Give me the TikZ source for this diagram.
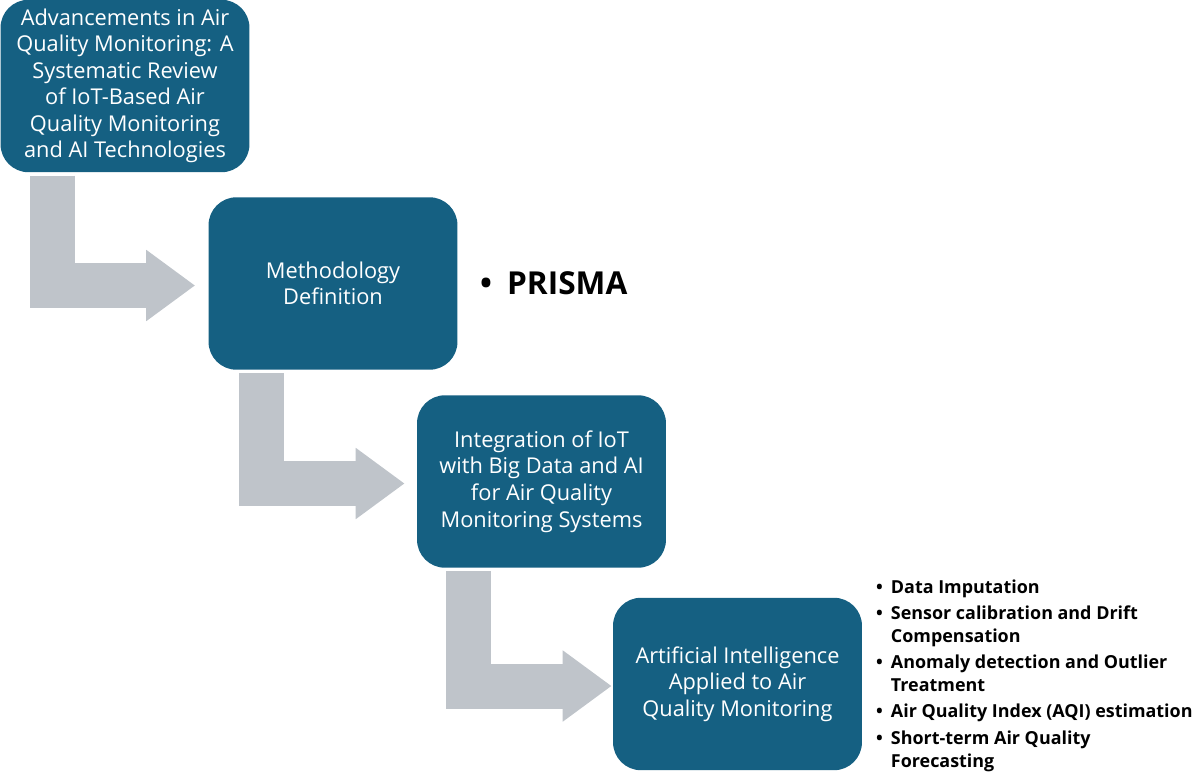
\documentclass[tikz,border=0pt]{standalone}
\usepackage{fontspec}
\setmainfont{Open Sans}
\definecolor{reviewblue}{RGB}{21,96,130}
\definecolor{arrowgray}{RGB}{191,196,202}
\usetikzlibrary{arrows.meta,calc}

\tikzset{
  stagebox/.style={draw=none,fill=reviewblue,rounded corners=0.56cm,
        text=white,align=center,minimum width=4.98cm,minimum height=3.45cm,
        inner sep=0pt,font=\fontsize{12.4}{15.1}\selectfont},
  flowarrow/.style={draw=arrowgray,line width=0.9cm,line join=miter,
        -{Triangle[length=0.98cm,width=1.36cm]}},
}

\begin{document}
\begin{tikzpicture}[x=0.02cm,y=-0.02cm]
  \useasboundingbox (0,0) rectangle (1200,774);

  %% Stage boxes
  \node[stagebox] (review) at (125,86)
        {Advancements in Air\\Quality Monitoring: A\\Systematic Review\\of IoT-Based Air\\Quality Monitoring\\and AI Technologies};
  \node[stagebox] (method) at (333,283.5) {Methodology\\Definition};
  \node[stagebox] (integration) at (541.5,481.5)
        {Integration of IoT\\with Big Data and AI\\for Air Quality\\Monitoring Systems};
  \node[stagebox] (aiapplied) at (737.5,684)
        {Artificial Intelligence\\Applied to Air\\Quality Monitoring};

  %% Bent arrows between stages
  \draw[flowarrow] ($(review.south west)+(52,3)$) |- ($(method.west)+(-13,2)$);
  \draw[flowarrow] ($(method.south west)+(53,3)$) |- ($(integration.west)+(-12,2)$);
  \draw[flowarrow] ($(integration.south west)+(52,3)$) |- ($(aiapplied.west)+(-1,2)$);

  %% Side notes
  \node[anchor=west,font=\fontsize{18}{20}\selectfont\bfseries] (prisma)
        at (474,283) {\textbullet\hspace{0.3cm}PRISMA};
  \node[anchor=north west,font=\fontsize{10.2}{13}\selectfont\bfseries] (ailist)
        at (870,571)
        {\begin{tabular}{@{}l@{\hspace{0.16cm}}l@{}}
          \textbullet & Data Imputation\\[2pt]
          \textbullet & Sensor calibration and Drift\\
                      & Compensation\\[2pt]
          \textbullet & Anomaly detection and Outlier\\
                      & Treatment\\[2pt]
          \textbullet & Air Quality Index (AQI) estimation\\[2pt]
          \textbullet & Short-term Air Quality\\
                      & Forecasting
        \end{tabular}};
\end{tikzpicture}
\end{document}
